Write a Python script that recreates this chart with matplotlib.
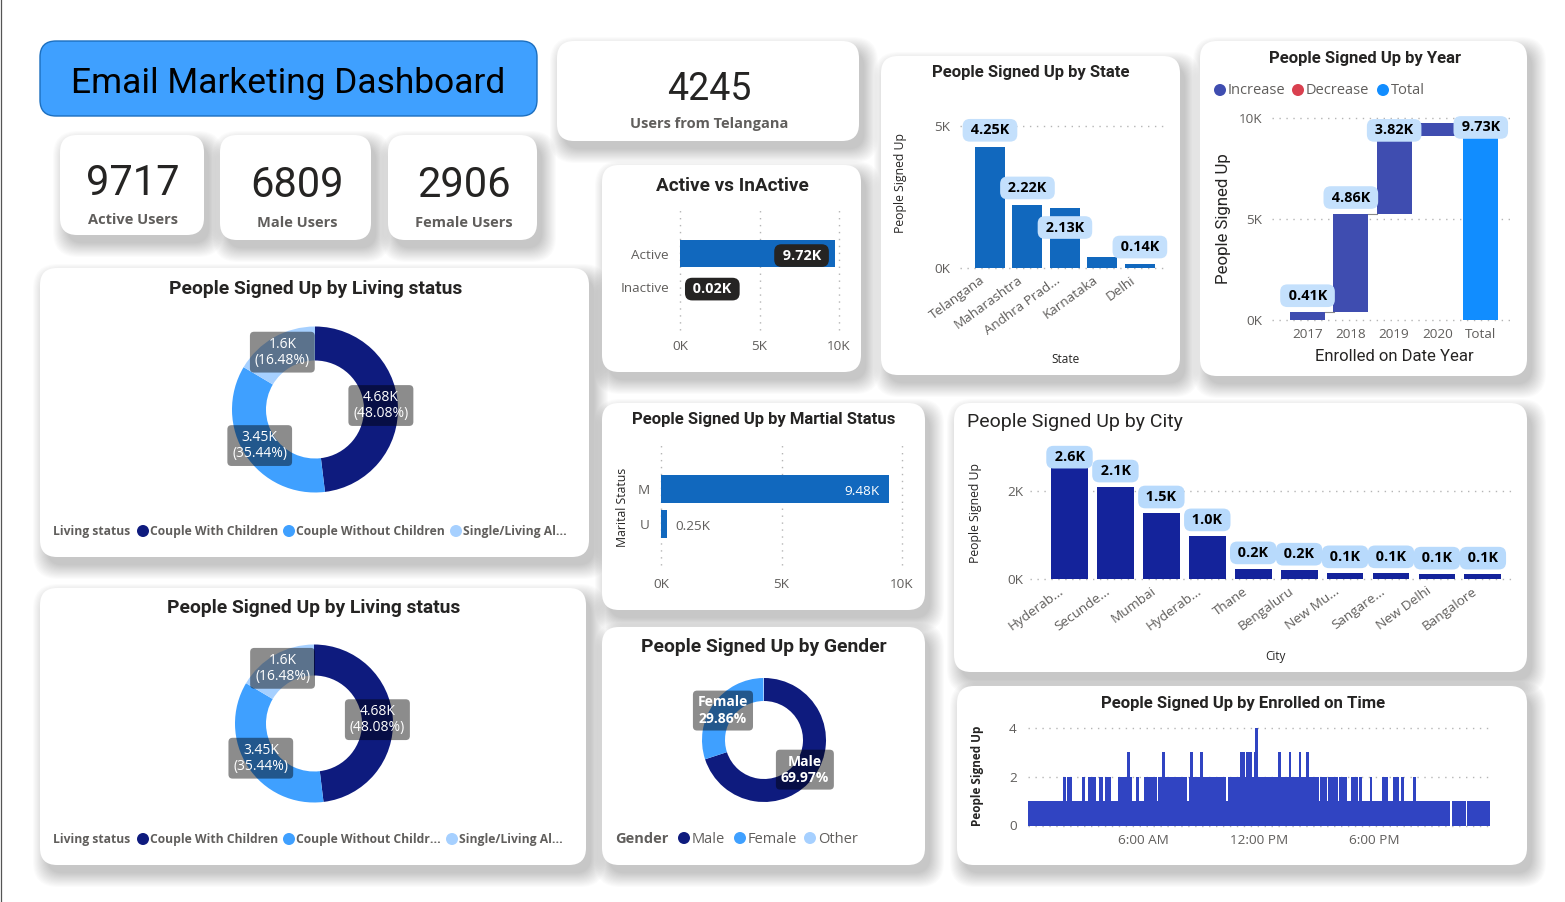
import numpy as np
import matplotlib
matplotlib.use("Agg")
import matplotlib.pyplot as plt
from matplotlib.patches import FancyBboxPatch, Circle
from matplotlib.transforms import ScaledTranslation

W, H = 1565, 902

# kpi cards
kpi_values = ["9717", "6809", "2906"]
kpi_names = ["Active Users", "Male Users", "Female Users"]
telangana_users = "4245"

# active vs inactive
active_names = ["Active", "Inactive"]
active_values = [9720, 20]

# states
state_names = ["Telangana", "Maharashtra", "Andhra Prad...", "Karnataka", "Delhi"]
state_values = [4250, 2220, 2130, 390, 140]
state_labels = ["4.25K", "2.22K", "2.13K", None, "0.14K"]
state_offsets = [17, 17, -20, 0, 17]

# year waterfall
years = ["2017", "2018", "2019", "2020", "Total"]
year_steps = [410, 4860, 3820, 640]
year_labels = ["0.41K", "4.86K", "3.82K", None, "9.73K"]

# living status
living_names = ["Couple With Children", "Couple Without Children", "Single/Living Al..."]
living_values = [48.08, 35.44, 16.48]
living_labels = ["4.68K\n(48.08%)", "3.45K\n(35.44%)", "1.6K\n(16.48%)"]

# marital status
marital_names = ["M", "U"]
marital_values = [9480, 250]

# gender
gender_names = ["Male", "Female", "Other"]
gender_values = [69.97, 29.86, 0.17]
gender_labels = ["Male\n69.97%", "Female\n29.86%", None]

# city
city_names = ["Hyderab...", "Secunde...", "Mumbai", "Hyderab...", "Thane", "Bengaluru",
              "New Mu...", "Sangare...", "New Delhi", "Bangalore"]
city_values = [2610, 2090, 1500, 980, 230, 200, 140, 140, 110, 110]
city_labels = ["2.6K", "2.1K", "1.5K", "1.0K", "0.2K", "0.2K", "0.1K", "0.1K", "0.1K", "0.1K"]

# enrolled time, runs of minutes after midnight where the count reaches a level
level1_runs = [(0, 1315), (1321, 1365), (1368, 1440)]
level2_runs = [(109, 119), (123, 137), (168, 178), (187, 212), (221, 234), (240, 259),
               (280, 324), (337, 346), (362, 402), (405, 496), (502, 617), (623, 907),
               (910, 932), (935, 966), (969, 994), (1007, 1029), (1032, 1041), (1066, 1072),
               (1103, 1122), (1138, 1156), (1163, 1172), (1200, 1209)]
level3_runs = [(309, 318), (418, 427), (505, 514), (536, 546), (661, 676), (680, 698),
               (704, 717), (779, 789), (814, 820), (845, 851), (867, 876)]
level4_runs = [(708, 717)]

NAVY = "#0E1B7E"
BLUE = "#3FA0FF"
PALE = "#A6D0FF"
BAR = "#1168BE"
PILL = "#C4E0FC"
GREY = "#605E5C"
DARK = "#252423"
DIN = "Roboto"
UI = "Open Sans"

fig = plt.figure(figsize=(W / 100, H / 100), dpi=100, facecolor="white")

bg = fig.add_axes([0, 0, 1, 1], zorder=0)
bg.set_xlim(0, W)
bg.set_ylim(H, 0)
bg.axis("off")

top = fig.add_axes([0, 0, 1, 1], zorder=20)
top.set_xlim(0, W)
top.set_ylim(H, 0)
top.axis("off")
top.patch.set_alpha(0)


def card(x0, y0, x1, y1, face="white", edge="none", rad=17, shadow=True):
    if shadow:
        for i in range(14):
            g = 13 - i * 1.05
            bg.add_patch(FancyBboxPatch((x0 + 6 - g + rad, y0 + 9 - g + rad),
                                        x1 - x0 + 2 * g - 2 * rad, y1 - y0 + 2 * g - 2 * rad,
                                        boxstyle=f"round,pad={rad},rounding_size={rad + g * 0.6}",
                                        fc="black", ec="none", alpha=0.014, zorder=1))
    bg.add_patch(FancyBboxPatch((x0 + rad, y0 + rad), x1 - x0 - 2 * rad, y1 - y0 - 2 * rad,
                                boxstyle=f"round,pad={rad},rounding_size={rad}",
                                fc=face, ec=edge, lw=1, zorder=2))


def label(x, y, s, size=10, color=GREY, weight="normal", family=DIN, ha="center", rotation=0):
    if rotation:
        x += 1.5
    else:
        y += size * 0.12
    return top.text(x, y, s, fontsize=size, color=color, fontweight=weight, family=family,
                    ha=ha, va="center", rotation=rotation)


def px_axes(x0, y0, x1, y1):
    ax = fig.add_axes([x0 / W, 1 - y1 / H, (x1 - x0) / W, (y1 - y0) / H], zorder=5)
    ax.patch.set_alpha(0)
    for s in ax.spines.values():
        s.set_visible(False)
    ax.tick_params(length=0, labelsize=9.7, labelcolor=GREY)
    return ax


def finish(ax, axis="y"):
    # dotted grid that may sit on the axes edge, tick font
    ax.grid(True, axis=axis, ls=(0, (1, 4)), color="#B5B5B5", lw=1)
    ax.set_axisbelow(True)
    for l in ax.get_xgridlines() + ax.get_ygridlines():
        l.set_clip_on(False)
    for t in ax.get_xticklabels() + ax.get_yticklabels():
        t.set_family(UI)


def slant(ax, dx):
    # push rotated tick labels to the left
    off = ScaledTranslation(dx / 100, 0, fig.dpi_scale_trans)
    for t in ax.get_xticklabels():
        t.set_transform(t.get_transform() + off)


def pill(ax, x, y, s, dy, dx=0, fc=PILL, color="black", size=10.4):
    # spaces widen the box without making it taller
    ax.annotate(f" {s} ", (x, y), xytext=(dx * 0.72, dy * 0.72), textcoords="offset points",
                ha="center", va="center", fontsize=size, fontweight="bold", family=UI, color=color,
                zorder=10, annotation_clip=False,
                bbox=dict(boxstyle="round,pad=0.3,rounding_size=0.5", fc=fc, ec="none"))


def dot(x, y, color, r=6):
    top.add_patch(Circle((x, y), r, fc=color, ec="none"))


def donut(cx, cy, ro, ri, values, colors, labels, bold=False, size=10):
    ax = px_axes(cx - ro, cy - ro, cx + ro, cy + ro)
    ax.pie(values, colors=colors, startangle=90, counterclock=False, radius=1,
           wedgeprops=dict(width=1 - ri / ro, linewidth=0))
    ax.set_xlim(-1, 1)
    ax.set_ylim(-1, 1)
    mid = (1 + ri / ro) / 2
    ang = np.cumsum([0] + list(values))
    for i, s in enumerate(labels):
        if s is None:
            continue
        a = np.radians((ang[i] + ang[i + 1]) / 2 * 3.6)
        ax.text(mid * np.sin(a), mid * np.cos(a), s, ha="center", va="center", color="white",
                fontsize=size, family=UI, fontweight="bold" if bold else "normal",
                linespacing=1.2 if bold else 1.1, zorder=10, clip_on=False,
                bbox=dict(boxstyle="round,pad=0.35,rounding_size=0.3", fc="black", ec="none", alpha=0.45))


# ---- cards
card(60, 135, 204, 235)
card(220, 135, 371, 240)
card(388, 135, 537, 240)
card(557, 41, 859, 141)
card(602, 165, 861, 372)
card(881, 56, 1180, 375)
card(1200, 41, 1527, 376)
card(40, 268, 589, 557)
card(40, 588, 586, 865)
card(602, 403, 925, 610)
card(602, 627, 925, 865)
card(954, 403, 1527, 672)
card(957, 686, 1527, 865)
card(40, 41, 537, 116, face=BLUE, edge="#1C6FBF", rad=16, shadow=False)
bg.plot([0.5, 0.5], [0, H], color="#555555", lw=0.9, zorder=3)

label(288, 80, "Email Marketing Dashboard", size=25.5, color="black")
for x, yv, yn, v, n in zip([133, 297, 464], [180, 182, 182], [219, 222, 222], kpi_values, kpi_names):
    label(x, yv, v, size=30, color=DARK)
    label(x, yn, n, size=10.5, weight="bold", family=UI)
label(709, 86, telangana_users, size=27, color=DARK)
label(709, 123, "Users from Telangana", size=10.5, weight="bold", family=UI)

TITLE = dict(size=13.9, color=DARK, weight="bold")
label(732, 184, "Active vs InActive", size=13.7, color=DARK, weight="bold")
label(1031, 71, "People Signed Up by State", size=12, color=DARK, weight="bold")
label(1365, 57, "People Signed Up by Year", size=12, color=DARK, weight="bold")
label(316, 287, "People Signed Up by Living status", **TITLE)
label(314, 606, "People Signed Up by Living status", **TITLE)
label(764, 418, "People Signed Up by Martial Status", size=12, color=DARK, weight="bold")
label(764, 645, "People Signed Up by Gender", **TITLE)
label(1243, 702, "People Signed Up by Enrolled on Time", size=12, color=DARK, weight="bold")
label(967, 420, "People Signed Up by City", size=14, color=DARK, ha="left")

# ---- active vs inactive
ax = px_axes(680, 210, 839, 330)
ax.barh(range(2), active_values, height=0.8, color=BAR)
ax.set_xlim(0, 10000)
ax.set_ylim(2.28, -1.3)
ax.set_yticks(range(2), active_names)
ax.set_xticks([0, 5000, 10000], ["0K", "5K", "10K"])
ax.tick_params(axis="x", pad=7)
ax.tick_params(axis="y", pad=8)
finish(ax, "x")
for i, v in enumerate(active_values):
    pill(ax, v, i, f"{v / 1000:.2f}K", -2, dx=-33 if v > 5000 else 32, fc=DARK, color="white")

# ---- state
ax = px_axes(960, 126, 1168, 268)
ax.bar(range(5), state_values, width=0.8, color=BAR)
ax.set_xlim(-0.8, 4.75)
ax.set_ylim(0, 5000)
ax.set_yticks([0, 5000], ["0K", "5K"])
ax.set_xticks(range(5), state_names, rotation=36, ha="right", rotation_mode="anchor")
ax.tick_params(axis="x", pad=4)
ax.tick_params(axis="y", pad=7)
finish(ax)
slant(ax, -10)
for i, v in enumerate(state_values):
    if state_labels[i]:
        pill(ax, i, v, state_labels[i], state_offsets[i])
label(899, 183, "People Signed Up", size=8.8, color=DARK, family=UI, rotation=90)
label(1066, 358, "State", size=8.5, color=DARK, family=UI)

# ---- year
ax = px_axes(1272, 118, 1515, 320)
ends = np.cumsum(year_steps)
starts = ends - np.array(year_steps)
ax.bar(range(4), year_steps, bottom=starts, width=0.81, color="#3F4DB0")
ax.bar(4, ends[-1], width=0.81, color="#118DFF")
for i in range(4):
    ax.plot([i + 0.4, i + 0.6], [ends[i], ends[i]], color="#8A8A8A", lw=0.8)
ax.set_xlim(-0.82, 4.79)
ax.set_ylim(0, 10000)
ax.set_yticks([0, 5000, 10000], ["0K", "5K", "10K"])
ax.set_xticks(range(5), years)
ax.tick_params(axis="x", pad=6)
ax.tick_params(axis="y", pad=7)
finish(ax)
tops = list(ends) + [ends[-1]]
pill_shift = {0: 16, 1: 16, 2: 6, 4: -4}
for i, s in enumerate(year_labels):
    if s:
        pill(ax, i, tops[i], s, pill_shift[i])
label(1222, 219, "People Signed Up", size=12.2, color=DARK, rotation=90)
label(1394, 355, "Enrolled on Date Year", size=12, color=DARK)
for x, c, n in zip([1220, 1298, 1383], ["#3F4DB0", "#D9404F", "#118DFF"], ["Increase", "Decrease", "Total"]):
    dot(x, 90, c)
    label(x + 8, 89.5, n, size=10.5, family=UI, ha="left")

# ---- donuts
colors = [NAVY, BLUE, PALE]
donut(315, 409.5, 83, 49, living_values, colors, living_labels)
donut(314, 723.5, 79, 48, living_values, colors, living_labels)
donut(764, 740, 62, 39, gender_values, colors, gender_labels, bold=True, size=10)

LEG = dict(size=8.75, family=UI, ha="left", weight="bold")
label(53, 530, "Living status", **LEG)
for x, c, n in zip([143, 289, 456], colors, living_names):
    dot(x, 531, c)
    label(x + 7, 530, n, **LEG)
label(53, 838, "Living status", **LEG)
short = [living_names[0], "Couple Without Childr...", living_names[2]]
for x, c, n in zip([143, 289, 452], colors, short):
    dot(x, 839, c)
    label(x + 7, 838, n, **LEG)
label(615, 838, "Gender", size=10.5, family=UI, ha="left", weight="bold")
for x, c, n in zip([684, 740, 810], colors, gender_names):
    dot(x, 838, c)
    label(x + 8, 838, n, size=10.5, family=UI, ha="left")

# ---- marital
ax = px_axes(661, 445, 902, 565)
ax.barh(range(2), marital_values, height=0.8, color=BAR)
ax.set_xlim(0, 10000)
ax.set_ylim(2.17, -1.257)
ax.set_yticks(range(2), marital_names)
ax.set_xticks([0, 5000, 10000], ["0K", "5K", "10K"])
ax.tick_params(axis="x", pad=9)
ax.tick_params(axis="y", pad=8)
finish(ax, "x")
ax.annotate("9.48K", (marital_values[0], 0), xytext=(-7, -1.5), textcoords="offset points", ha="right",
            va="center", color="white", fontsize=9.7, family=UI)
ax.annotate("0.25K", (marital_values[1], 1), xytext=(6, -1.5), textcoords="offset points", ha="left",
            va="center", color=GREY, fontsize=9.7, family=UI)
label(621, 507, "Marital Status", size=8.8, color=DARK, family=UI, rotation=90)

# ---- city
ax = px_axes(1030, 491, 1515, 579)
ax.bar(range(10), city_values, width=0.8, color="#14239B", clip_on=False)
ax.set_xlim(-0.86, 9.7)
ax.set_ylim(0, 2000)
ax.set_yticks([0, 2000], ["0K", "2K"])
ax.set_xticks(range(10), city_names, rotation=36, ha="right", rotation_mode="anchor")
ax.tick_params(axis="x", pad=4)
ax.tick_params(axis="y", pad=5)
finish(ax)
slant(ax, -11)
for i, v in enumerate(city_values):
    pill(ax, i, v, city_labels[i], 7 if i == 0 else 16, fc="#B8DAFC")
label(974, 513, "People Signed Up", size=8.8, color=DARK, family=UI, rotation=90)
label(1275, 655, "City", size=8.5, color=DARK, family=UI)

# ---- enrolled time
ax = px_axes(1028, 728, 1490, 825.5)
for level, runs in zip([4, 3, 2, 1], [level4_runs, level3_runs, level2_runs, level1_runs]):
    for a, b in runs:
        ax.bar(a, level, width=b - a, align="edge", color="#3044C2", linewidth=0)
ax.set_xlim(0, 1440)
ax.set_ylim(0, 4)
ax.set_yticks([0, 2, 4])
ax.set_xticks([360, 720, 1080], ["6:00 AM", "12:00 PM", "6:00 PM"])
ax.tick_params(axis="x", pad=6)
ax.tick_params(axis="y", pad=8)
finish(ax)
label(976, 776, "People Signed Up", size=8.5, color=DARK, family=UI, rotation=90, weight="bold")

fig.savefig("out.png", dpi=100)
